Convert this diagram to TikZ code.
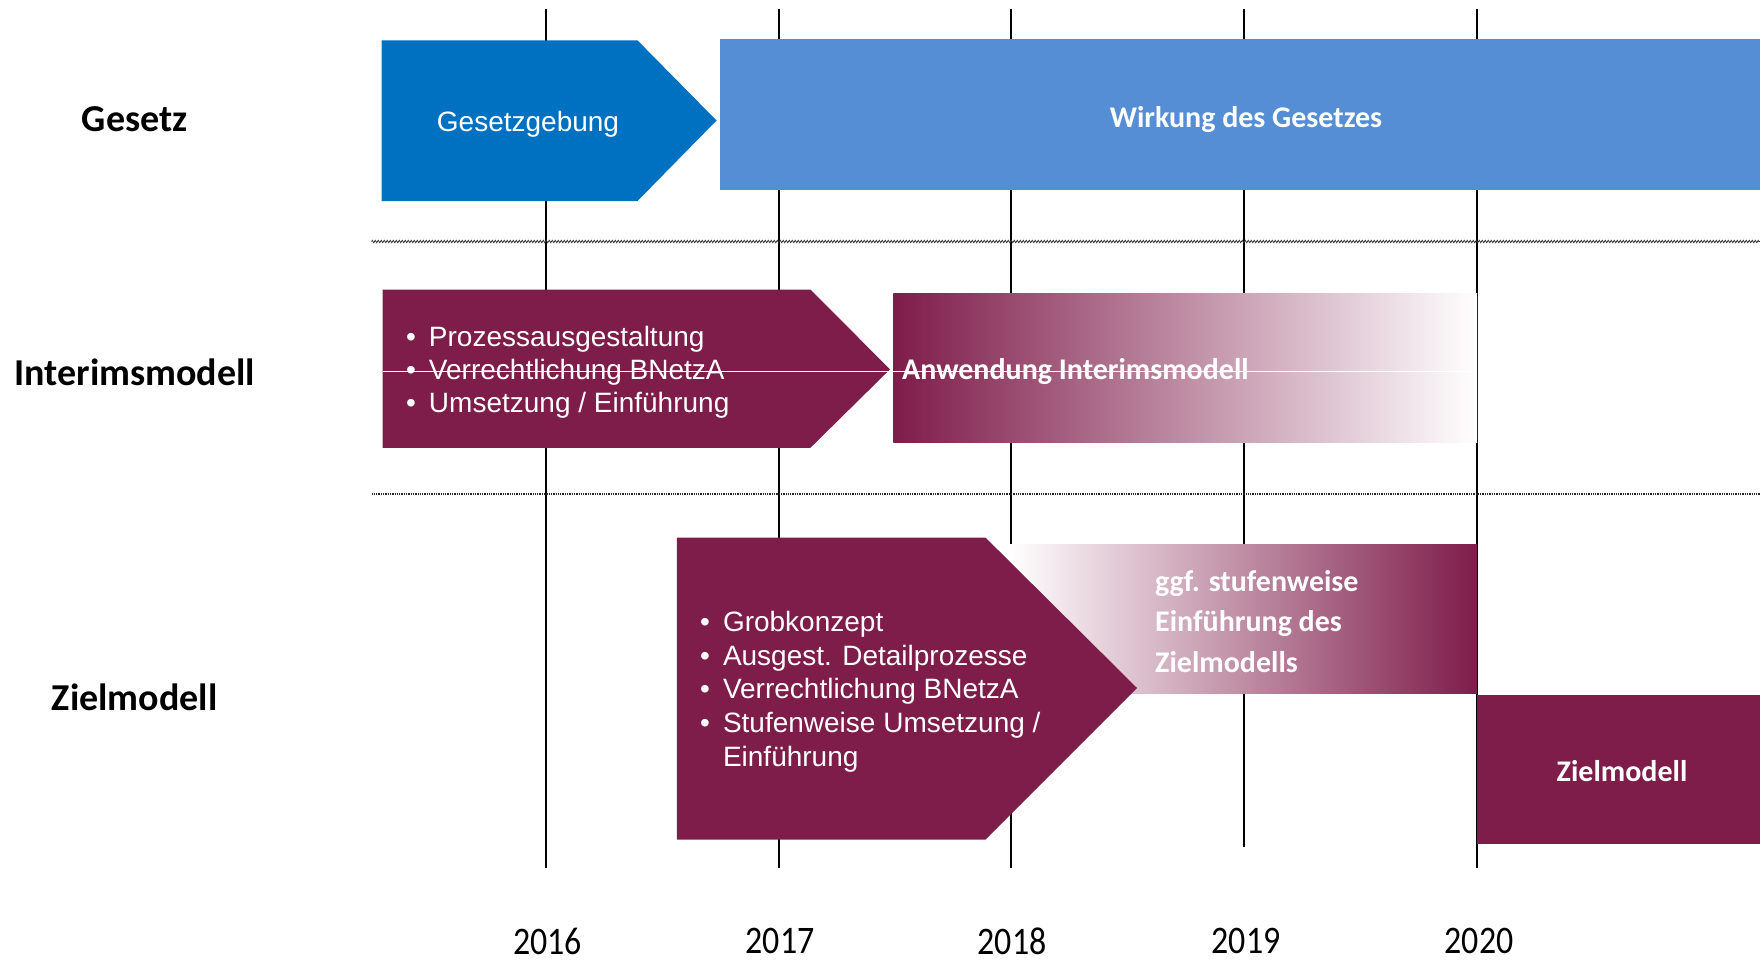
\documentclass[tikz,border=0pt]{standalone}
\usepackage{fontspec}
\setmainfont{Carlito}
\newfontfamily\arialfont{Liberation Sans}
\usetikzlibrary{decorations.pathmorphing}
\definecolor{gblue}{HTML}{0070C0}
\definecolor{lblue}{HTML}{558ED5}
\definecolor{wine}{HTML}{7E1C4A}
\begin{document}
\begin{tikzpicture}[x=1pt,y=-1pt,
  yearline/.style={line width=2pt, black},
  sepwave/.style={line width=0.8pt, black!80, decorate, decoration={zigzag, amplitude=1.2pt, segment length=3pt}},
  sepdot/.style={densely dotted, line width=1.3pt, black!85},
  rowlabel/.style={font=\fontsize{38}{40}\selectfont\bfseries, text=black, inner sep=0},
  blist/.style={font=\arialfont\fontsize{28}{30}\selectfont, text=white, anchor=mid west, inner sep=0},
  boldw/.style={font=\fontsize{30}{32}\selectfont\bfseries, text=white, inner sep=0},
  yearlab/.style={font=\fontsize{39}{41}\selectfont, inner sep=0},
  wineshape/.style={fill=wine, draw=none}
]
\useasboundingbox (0,0) rectangle (1760,963);

% year lines
\foreach \n/\x/\yb in {16/545.5/868, 17/779/868, 18/1011/868, 19/1243.6/847, 20/1477/868} {
  \coordinate (t\n) at (\x,9);
  \coordinate (b\n) at (\x,\yb);
  \draw[yearline] (t\n) -- (b\n);
}

% separators
\coordinate (s1a) at (371.5,241.5); \coordinate (s1b) at (1760,241.5);
\coordinate (s2a) at (371.5,494); \coordinate (s2b) at (1760,494);
\draw[sepwave] (s1a) -- (s1b);
\draw[sepdot] (s2a) -- (s2b);

% row labels
\node[rowlabel] (lgesetz) at (134.7,119) {Gesetz};
\node[rowlabel] (linterim) at (134.7,372.5) {Interimsmodell};
\node[rowlabel] (lziel) at (134.7,697) {Zielmodell};

% Gesetz row
\fill[gblue] (381.6,40.4) -- (637.5,40.4) -- (716.5,120.5) -- (637.5,201) -- (381.6,201) -- cycle;
\node[font=\arialfont\fontsize{28}{30}\selectfont, text=white, inner sep=0] (gebung) at (528,124) {Gesetzgebung};
\fill[lblue] (719.5,39.3) rectangle (1760,189.7);
\node[boldw] (wirkung) at (1246,119.5) {Wirkung des Gesetzes};

% Interim row
\fill[wine] (382.7,289.6) -- (810.4,289.6) -- (890,369.3) -- (810.4,447.8) -- (382.7,447.8) -- cycle;
\shade[left color=wine, right color=white] (893.4,293) rectangle (1477,442.2);
\draw[white, line width=0.8pt] (382.7,371) -- (1477,371);
\node[blist] (i1) at (406,344.5) {\makebox[22.8pt][l]{•}Prozessausgestaltung};
\node[blist] (i2) at (406,377) {\makebox[22.8pt][l]{•}Verrechtlichung BNetzA};
\node[blist] (i3) at (406,410.5) {\makebox[22.8pt][l]{•}Umsetzung / Einführung};
\node[boldw, anchor=west] (anw) at (902,371.5) {Anwendung Interimsmodell};

% Ziel row
\shade[left color=white, right color=wine] (1010,544.4) rectangle (1477,693.7);
\fill[wine] (676.8,537.6) -- (985.5,537.6) -- (1137,688) -- (985.5,839.6) -- (676.8,839.6) -- cycle;
\node[blist] (z1) at (700,629.5) {\makebox[22.8pt][l]{•}Grobkonzept};
\node[blist] (z2) at (700,663) {\makebox[22.8pt][l]{•}Ausgest. Detailprozesse};
\node[blist] (z3) at (700,696.5) {\makebox[22.8pt][l]{•}Verrechtlichung BNetzA};
\node[blist] (z4) at (700,730.5) {\makebox[22.8pt][l]{•}Stufenweise Umsetzung /};
\node[blist] (z5) at (700,764) {\makebox[22.8pt][l]{}Einführung};
\node[boldw, anchor=west] (g1) at (1155,584) {ggf. stufenweise};
\node[boldw, anchor=west] (g2) at (1155,624) {Einführung des};
\node[boldw, anchor=west] (g3) at (1155,662) {Zielmodells};
\fill[wine] (1477,694.8) rectangle (1760,844);
\node[boldw] (zm) at (1622,771) {Zielmodell};

% years
\node[yearlab] (y16) at (547.7,941) {\scalebox{0.87}[1]{2016}};
\node[yearlab] (y17) at (780,941) {\scalebox{0.87}[1]{2017}};
\node[yearlab] (y18) at (1012,941) {\scalebox{0.87}[1]{2018}};
\node[yearlab] (y19) at (1246,941) {\scalebox{0.87}[1]{2019}};
\node[yearlab] (y20) at (1479,941) {\scalebox{0.87}[1]{2020}};
\end{tikzpicture}
\end{document}
